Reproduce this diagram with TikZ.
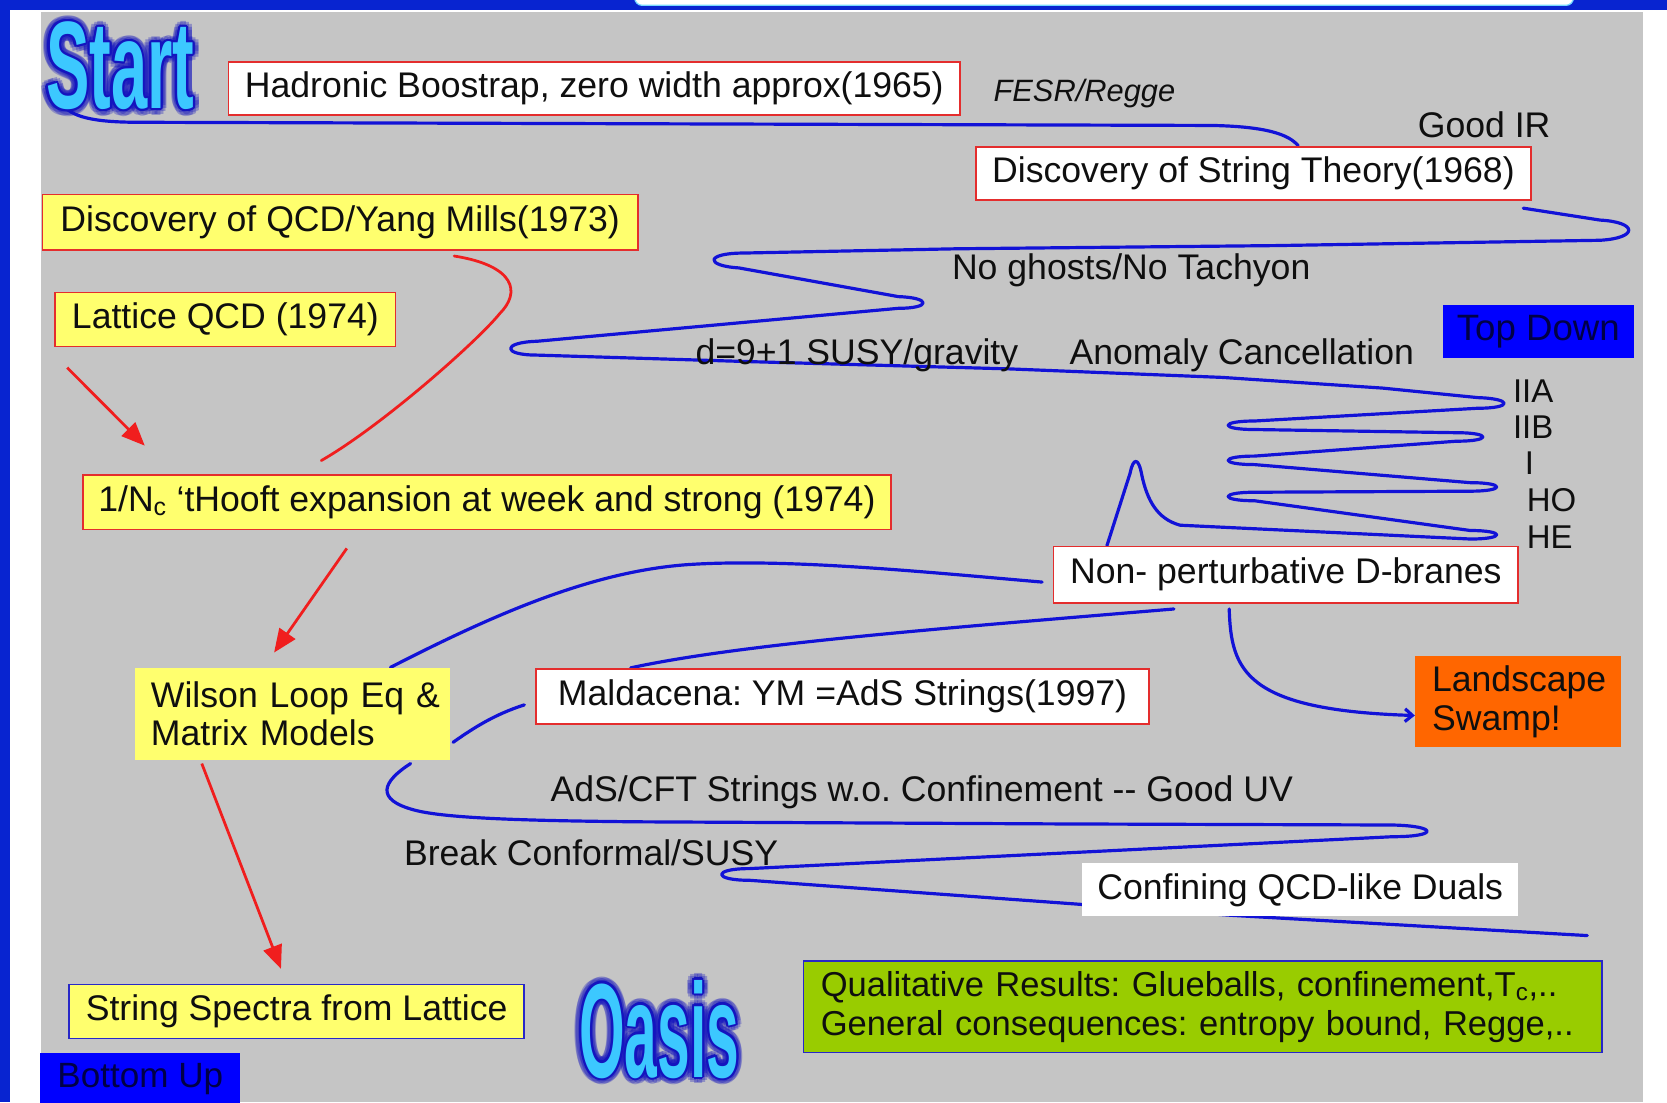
\documentclass[tikz,border=0pt]{standalone}
\usepackage{fontspec}
\setmainfont{Liberation Sans}
\usetikzlibrary{arrows.meta,calc}
\pgfdeclarelayer{bglayer}
\pgfdeclarelayer{linelayer}
\pgfsetlayers{bglayer,linelayer,main}
\definecolor{bggray}{RGB}{197,197,197}
\definecolor{frameblue}{RGB}{8,36,208}
\definecolor{lineblue}{RGB}{18,18,215}
\definecolor{boxred}{RGB}{228,45,45}
\definecolor{yel}{RGB}{255,255,110}
\definecolor{arrred}{RGB}{240,30,30}
\definecolor{tdblue}{RGB}{0,0,255}
\definecolor{tdtext}{RGB}{0,0,70}
\definecolor{orng}{RGB}{255,102,0}
\definecolor{grn}{RGB}{153,204,0}
\definecolor{specblue}{RGB}{40,40,200}
\definecolor{logocyan}{RGB}{60,200,255}
\definecolor{glowblue}{RGB}{20,20,190}
\definecolor{txt}{RGB}{15,15,15}
\frenchspacing
\begin{document}
\begin{tikzpicture}[x=1pt,y=-1pt,
  every node/.style={font=\fontsize{33.5}{36}\selectfont, text=txt, inner sep=0pt},
  wbox/.style={draw=boxred, fill=white, line width=1.6pt},
  ybox/.style={draw=boxred, fill=yel, line width=1.6pt},
  bl/.style={draw=lineblue, line width=3pt, line cap=round, line join=round},
  rarr/.style={draw=arrred, line width=2.6pt, -{Triangle[length=22pt,width=18pt]}},
  rline/.style={draw=arrred, line width=2.6pt, line cap=round},
  logotext/.style={font=\fontsize{60}{60}\selectfont\bfseries},
  side/.style={anchor=west, font=\fontsize{31}{36}\selectfont}
]
\useasboundingbox (0,0) rectangle (1568,1037);
\begin{pgfonlayer}{bglayer}
  \fill[white] (0,0) rectangle (1568,1037);
  \fill[frameblue] (0,0) rectangle (9.5,1037);
  \fill[frameblue] (0,-2) rectangle (1568,9);
  \draw[fill=white, draw=logocyan!70, line width=1.2pt, rounded corners=7] (597,-20) rectangle (1480,5);
  \fill[bggray] (38.5,11) rectangle (1545,1037);
\end{pgfonlayer}

% logos with a blurred blue halo
\foreach \a in {0,30,...,330}{
  \node[logotext, text=glowblue, opacity=0.3, xscale=1.02, yscale=1.95] (sga\a) at ($(113,62)+(\a:6)$) {Start};
  \node[logotext, text=glowblue, xscale=1.02, yscale=1.95] (sgb\a) at ($(113,62)+(\a:2)$) {Start};
  \node[logotext, text=glowblue, opacity=0.3, xscale=0.92, yscale=2.1] (oga\a) at ($(620,968)+(\a:6)$) {Oasis};
  \node[logotext, text=glowblue, xscale=0.92, yscale=2.1] (ogb\a) at ($(620,968)+(\a:2)$) {Oasis};
}
\node[logotext, text=logocyan, xscale=1.02, yscale=1.95] (start) at (113,62) {Start};
\node[logotext, text=logocyan, xscale=0.92, yscale=2.1] (oasis) at (620,968) {Oasis};

% boxes and labels
\node[wbox, minimum width=688, minimum height=50] (had) at (559,83) {Hadronic Boostrap, zero width approx(1965)};
\node[font=\fontsize{29}{30}\selectfont\itshape] (fesr) at (1020,88) {FESR/Regge};
\node (goodir) at (1396,117) {Good IR};
\node[wbox, minimum width=522, minimum height=50] (strth) at (1179,163) {Discovery of String Theory(1968)};
\node[ybox, minimum width=560, minimum height=52] (qcd) at (320,209) {Discovery of QCD/Yang Mills(1973)};
\node (nogh) at (1064,254) {No ghosts/No Tachyon};
\node[ybox, minimum width=320, minimum height=51] (lat) at (212,300.5) {Lattice QCD (1974)};
\node[fill=tdblue, text=tdtext, minimum width=180, minimum height=50, font=\fontsize{34.5}{36}\selectfont] (td) at (1447,312) {Top Down};
\node (susy) at (806,334) {d=9+1 SUSY/gravity};
\node (anom) at (1168,334) {Anomaly Cancellation};
\node[side] (iia) at (1423,368) {IIA};
\node[side] (iib) at (1423,402) {IIB};
\node[side] (ione) at (1434,436) {I};
\node[side] (ho) at (1436,470) {HO};
\node[side] (he) at (1436,505) {HE};
\node[ybox, minimum width=760, minimum height=51] (thf) at (458,472.5) {1/N\textsubscript{c} ‘tHooft expansion at week and strong (1974)};
\node[wbox, minimum width=437, minimum height=53] (dbr) at (1209.5,540.5) {Non- perturbative D-branes};
\node[fill=yel, minimum width=296, minimum height=87, text width=266, align=left] (wil) at (275,671.5) {\mbox{Wilson Loop Eq \&}\\\mbox{Matrix Models}};
\node[wbox, minimum width=577, minimum height=52] (mal) at (792.5,655) {Maldacena: YM =AdS Strings(1997)};
\node[fill=orng, minimum width=194, minimum height=86, text width=162, align=left] (land) at (1428,660) {\mbox{Landscape}\\\mbox{Swamp!}};
\node (adscft) at (867,745) {AdS/CFT Strings w.o. Confinement -{}- Good UV};
\node (brk) at (556,802) {Break Conformal/SUSY};
\node[fill=white, minimum width=410, minimum height=50] (conf) at (1223,837) {Confining QCD-like Duals};
\node[fill=yel, draw=specblue, line width=1.4pt, minimum width=428, minimum height=51] (spec) at (279,951.5) {String Spectra from Lattice};
\node[fill=grn, draw=specblue, line width=1.4pt, minimum width=751, minimum height=86, text width=719, align=left, font=\fontsize{32.5}{37}\selectfont] (res) at (1131.5,947) {\mbox{Qualitative Results: Glueballs, confinement,T\textsubscript{c},..}\\\mbox{General consequences: entropy bound, Regge,..}};
\node[fill=tdblue, text=tdtext, anchor=north, minimum width=188, minimum height=50, font=\fontsize{33}{36}\selectfont] (bu) at (132,990) {Bottom Up};

\coordinate (s1) at (58,97);
\coordinate (cend) at (1493,880);

\begin{pgfonlayer}{linelayer}
\draw[bl] (s1) .. controls (66,110) and (88,115) .. (130,115) -- (1140,118) .. controls (1190,119) and (1212,126) .. ($(strth.north west)+(304,0)$);
\draw[bl] ($(strth.south east)+(-8,7)$) -- (1505,207) .. controls (1541,209) and (1541,224) .. (1505,226) -- (1200,231) -- (900,234) -- (700,238) .. controls (663,238) and (663,250) .. (695,252) -- (845,279) .. controls (876,280) and (876,290) .. (845,290) -- (505,321) .. controls (472,322) and (472,334) .. (505,334) -- (700,340) -- (950,347) -- (1150,355) -- (1300,365) -- (1390,374) .. controls (1423,375) and (1423,384) .. (1390,384) -- (1180,396) .. controls (1147,396) and (1147,404) .. (1180,404) -- (1370,407) .. controls (1403,407) and (1403,415) .. (1370,415) -- (1180,429) .. controls (1147,429) and (1147,437) .. (1180,437) -- (1383,454) .. controls (1416,454) and (1416,462) .. (1383,462) -- (1180,463) .. controls (1147,463) and (1147,471) .. (1180,471) -- (1383,499) .. controls (1416,499) and (1416,507) .. (1383,507) -- (1110,494) .. controls (1088,488) and (1079,470) .. (1074,447) .. controls (1071,430) and (1066,430) .. (1063,445) -- ($(dbr.north west)+(51,0)$);
\draw[bl] ($(dbr.west)+(-10,7)$) .. controls (870,538) and (740,525) .. (648,531) .. controls (560,537) and (470,575) .. ($(wil.north east)+(-56,0)$);
\draw[bl] ($(dbr.south west)+(114,5)$) .. controls (900,590) and (700,605) .. ($(mal.north west)+(90,0)$);
\draw[bl] ($(mal.west)+(-10,8)$) .. controls (465,672) and (445,685) .. ($(wil.south east)+(3,-17)$);
\draw[bl] ($(wil.south east)+(-37,3)$) .. controls (360,735) and (352,752) .. (390,762) .. controls (420,770) and (500,772) .. (600,773) -- (1000,775) -- (1310,776) .. controls (1353,777) and (1353,787) .. (1310,787) -- (705,817) .. controls (670,817) and (670,828) .. (705,828) -- (1159,861) -- (cend);
\draw[bl, -{Straight Barb[length=7pt,width=12pt]}] ($(dbr.south west)+(166,5)$) .. controls (1158,630) and (1170,668) .. ($(land.west)+(0,13)$);
\draw[rarr] ($(lat.south west)+(12,19)$) -- ($(thf.north west)+(59,-27)$);
\draw[rline] ($(qcd.south west)+(388,5)$) .. controls (485,250) and (490,275) .. (470,295) .. controls (450,320) and (360,400) .. ($(thf.north west)+(225,-13)$);
\draw[rarr] ($(thf.south west)+(249,17)$) -- ($(wil.north west)+(131,-14)$);
\draw[rarr] ($(wil.south west)+(63,3)$) -- ($(spec.north west)+(200,-14)$);
\end{pgfonlayer}
\end{tikzpicture}
\end{document}
